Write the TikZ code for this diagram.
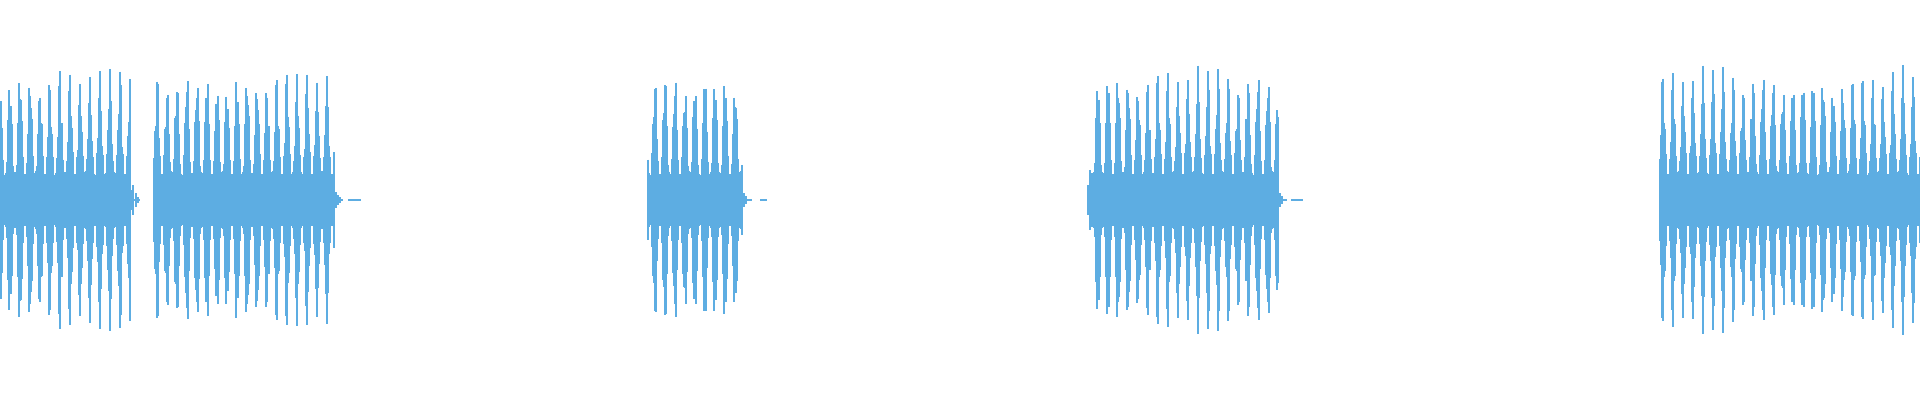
\documentclass[tikz,border=0pt]{standalone}
\definecolor{wave}{RGB}{93,173,226}
\begin{document}
\begin{tikzpicture}[x=1pt,y=-1pt,wv/.style={draw=wave,line width=1.1pt}]
\useasboundingbox (0,0) rectangle (1920,400);
\newcommand{\burst}[3]{%
  \foreach \x in {#1,...,#2} {%
    \pgfmathsetmacro\pk{abs(cos(18*mod(\x+#3,10)))^3}%
    \pgfmathsetmacro\h{20+6*abs(sin(mod(\x,37)*97))+\pk*(88+22*abs(sin(mod(\x,101)*13.7)))*(0.55+0.45*abs(sin(mod(\x,61)*53)))}%
    \draw[wv] (\x,200-\h) -- (\x,200+\h);
  }%
}
\burst{0}{130}{0}
\draw[wv] (131,190)--(131,210) (133,185)--(133,215) (136,193)--(136,207) (138,197)--(138,203) (134,200)--(140,200);
\burst{154}{334}{3}
\draw[wv] (336,192)--(336,208) (338,195)--(338,205) (340,197)--(340,203) (336,200)--(343,200) (348,200)--(361,200);
\burst{648}{742}{5}
\draw[wv] (744,193)--(744,207) (746,196)--(746,204) (744,200)--(752,200) (760,200)--(767,200);
\burst{1092}{1278}{2}
\draw[wv] (1088,185)--(1088,215) (1090,170)--(1090,230) (1280,193)--(1280,207) (1282,196)--(1282,204) (1280,200)--(1287,200) (1291,200)--(1303,200);
\burst{1660}{1920}{7}
\end{tikzpicture}
\end{document}
